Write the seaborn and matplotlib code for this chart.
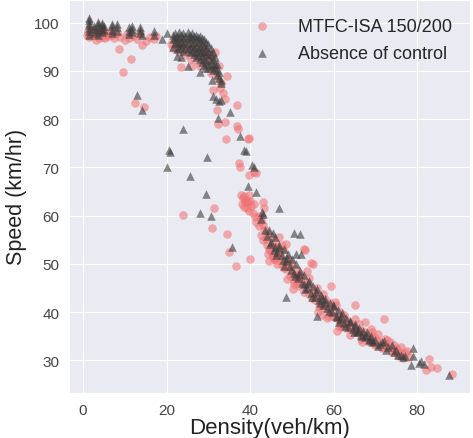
import numpy as np
import pandas as pd
import seaborn as sns
import matplotlib
matplotlib.use("Agg")
import matplotlib.pyplot as plt

# MTFC-ISA 150/200 (density, speed)
isa_density = [1.0, 1.2, 1.5, 1.8, 2.0, 2.3, 2.6, 3.0, 3.2, 3.5, 3.8, 4.2, 4.5, 4.8, 5.2, 5.5, 6.0, 6.5, 7.0, 7.5,
               8.0, 8.5, 8.8, 9.5, 10.0, 10.5, 11.0, 11.5, 12.0, 12.5, 13.0, 13.5, 14.0, 14.5, 15.0, 16.0, 17.0, 17.5,
               21.0, 21.5, 22.0, 22.5, 23.0, 23.5, 23.8, 24.2, 24.5, 25.0, 25.3, 25.8, 26.0, 26.4, 26.8, 27.2, 27.6,
               28.0, 28.3, 28.7, 29.0, 29.4, 29.8, 30.2, 30.5, 30.8, 31.0, 31.3, 31.6, 32.0, 32.0, 32.2, 32.5, 32.8,
               33.0, 33.5, 34.0, 34.2, 34.5, 34.0,
               36.8, 36.9, 37.0, 37.4, 37.5, 39.4, 39.6, 39.8, 41.4, 41.0,
               37.8, 38.0, 38.2, 38.4, 38.6, 38.8, 39.0, 39.2, 39.4, 39.6, 39.8, 40.0, 40.3, 40.6, 40.8, 41.2, 41.5,
               42.0, 42.5, 43.0, 43.2, 42.0, 42.5, 43.0,
               24.0, 31.4, 30.8, 34.5, 35.0, 36.5, 40.0, 44.5,
               42.5, 43.0, 43.5, 44.0, 44.0, 44.5, 45.0, 45.2, 45.5, 46.0, 46.2, 46.5, 47.0, 47.0, 47.5, 47.8, 48.0,
               48.5, 48.6, 49.0, 49.5, 49.8, 50.0, 50.2, 50.5, 51.0, 51.3, 51.8, 52.0, 52.5, 52.8, 53.2, 53.5, 54.0,
               54.2, 54.5, 55.0, 55.0, 55.5, 56.0, 56.2, 56.5, 57.0, 57.3, 57.8, 58.0, 58.5, 59.0, 59.4, 59.8, 60.0,
               60.5, 60.8, 61.0, 61.5, 62.0, 62.5, 63.0, 63.5, 64.0, 64.5, 65.0, 65.0, 65.5, 66.0, 66.5, 67.0, 67.5,
               68.0, 68.5, 69.0, 69.5, 70.0, 70.5, 71.0, 71.5, 72.0, 72.2, 73.0, 73.5, 74.0, 74.5, 75.0, 75.5, 76.0,
               76.5, 77.0, 77.5, 82.0, 82.8, 83.2, 84.8, 88.3,
               43.8, 44.8, 45.8, 46.8, 47.5, 48.2, 49.2, 50.8, 51.5, 52.2, 53.0, 53.8, 54.8, 55.8, 56.8, 57.5, 58.2,
               59.2, 60.2, 61.2, 62.2, 63.2, 64.2, 65.2, 66.2, 67.2, 68.2, 69.2, 70.2, 71.2, 72.8, 73.8, 75.2, 76.2,
               78.0, 44.2, 45.5, 46.5, 48.8, 50.5, 53.5, 56.5, 58.8, 61.8, 63.8, 66.8, 69.8, 72.5, 74.8]
isa_speed = [97.5, 98.2, 97.0, 98.0, 97.3, 98.4, 97.8, 96.3, 97.5, 98.0, 96.8, 97.6, 98.3, 97.1, 96.9, 97.8, 97.2, 98.0, 97.4, 96.7,
             97.9, 94.6, 97.0, 89.8, 96.4, 97.6, 96.8, 92.5, 97.3, 83.3, 96.5, 97.8, 95.4, 82.5, 96.2, 97.0, 96.5, 97.2,
             95.5, 94.8, 96.2, 95.0, 94.0, 90.8, 95.6, 94.5, 93.2, 95.8, 94.1, 92.5, 90.9, 95.0, 93.7, 94.8, 92.0,
             90.9, 93.5, 95.2, 92.8, 91.5, 94.0, 92.2, 89.5, 93.0, 86.0, 90.5, 94.0, 88.5, 81.8, 78.9, 91.0, 86.5,
             87.5, 85.5, 79.3, 75.9, 88.9, 84.2,
             82.9, 78.5, 78.0, 70.9, 70.1, 75.9, 76.0, 68.5, 68.8, 69.0,
             64.2, 62.5, 63.6, 61.8, 64.0, 62.9, 63.3, 61.5, 62.8, 64.3, 60.9, 63.0, 61.9, 60.5, 62.4, 59.8, 58.6,
             57.9, 58.8, 62.8, 61.5, 60.0, 59.5, 58.0,
             60.1, 61.6, 57.5, 56.2, 52.4, 49.5, 51.0, 50.6,
             56.0, 55.0, 57.0, 54.0, 56.5, 53.0, 55.5, 52.2, 51.5, 54.5, 50.8, 53.4, 55.5, 51.5, 49.8, 52.8, 50.5,
             54.2, 48.9, 51.0, 47.5, 50.2, 48.2, 44.8, 46.5, 49.0, 47.0, 45.5, 48.0, 46.2, 53.0, 52.8, 45.0, 47.0,
             43.8, 50.2, 50.0, 44.5, 42.5, 45.0, 40.0, 43.2, 41.5, 39.5, 42.8, 40.8, 38.8, 42.0, 45.5, 40.2, 39.0,
             41.5, 36.0, 38.5, 40.0, 37.5, 39.5, 36.8, 38.2, 35.2, 37.0, 41.5, 38.5, 35.8, 37.5, 34.5, 36.2, 38.0,
             35.0, 33.8, 36.5, 34.8, 33.2, 35.5, 33.8, 32.5, 38.5, 34.5, 32.8, 33.8, 31.8, 33.2, 32.5, 31.0, 32.8,
             30.5, 31.5, 32.0, 28.0, 30.2, 28.6, 28.5, 27.2,
             55.2, 52.8, 51.0, 52.0, 54.0, 49.2, 49.5, 47.8, 46.2, 47.2, 44.2, 46.0, 43.0, 44.0, 41.8, 43.8, 41.2,
             39.8, 42.2, 37.2, 38.8, 37.8, 36.5, 36.2, 36.0, 35.2, 34.2, 35.8, 34.5, 32.8, 34.2, 32.2, 31.5, 31.8,
             30.8, 52.0, 53.8, 50.0, 46.8, 45.8, 48.5, 41.0, 39.2, 37.0, 37.8, 33.8, 33.5, 33.0, 32.0]

# Absence of control (density, speed)
noc_density = [1.5, 1.5, 1.5, 1.5, 1.5, 1.5, 1.5, 2.5, 2.5, 2.5, 3.5, 3.5, 3.5, 3.5, 3.5, 4.5, 4.5, 4.5, 4.5,
               5.0, 5.0, 7.0, 7.0, 7.0, 7.0, 8.0, 8.0, 8.0, 11.0, 11.0, 11.0, 11.8, 11.8, 11.8, 13.5, 13.5, 13.5,
               14.0, 17.0, 17.0, 19.0, 20.0,
               21.5, 21.5, 21.5, 22.0, 22.0, 22.0, 22.5, 22.5, 22.5, 23.0, 23.0, 23.0, 23.0, 23.5, 23.5, 23.5,
               24.0, 24.0, 24.0, 24.0, 24.5, 24.5, 24.5, 25.0, 25.0, 25.0, 25.0, 25.5, 25.5, 25.5, 25.5,
               26.0, 26.0, 26.0, 26.0, 26.5, 26.5, 26.5, 26.5, 27.0, 27.0, 27.0, 27.0, 27.0, 27.5, 27.5, 27.5, 27.5,
               28.0, 28.0, 28.0, 28.0, 28.0, 28.5, 28.5, 28.5, 28.5, 28.5, 29.0, 29.0, 29.0, 29.0, 29.0,
               29.5, 29.5, 29.5, 29.5, 30.0, 30.0, 30.0, 30.0, 30.0, 30.5, 30.5, 30.5, 30.5, 31.0, 31.0, 31.0, 31.0,
               31.5, 31.5, 31.5, 32.0, 32.0, 32.0, 32.5, 32.5, 33.0, 33.0,
               22.5, 23.5, 25.2, 28.0, 29.2, 30.8, 31.0, 31.8, 32.5, 33.0, 32.2, 35.2, 37.5, 38.5, 39.0, 40.5, 41.0,
               39.5, 41.5, 42.8, 43.0, 47.0, 42.5, 13.0, 14.0, 24.0, 20.5, 20.8, 20.0, 29.6, 25.5, 29.5, 28.0, 30.5,
               35.6, 48.5, 56.0, 50.5, 52.0, 52.2, 51.0,
               43.5, 44.0, 44.5, 45.0, 45.5, 46.0, 46.0, 46.5, 47.0, 47.5, 48.0, 48.5, 49.0, 49.5, 50.0, 50.5, 51.0,
               51.5, 52.0, 52.5, 53.0, 53.5, 54.0, 54.5, 55.0, 55.5, 56.0, 56.5, 57.0, 57.5, 58.0, 58.5, 59.0, 59.5,
               60.0, 60.5, 61.0, 61.5, 62.0, 62.5, 63.0, 63.5, 64.0, 64.5, 65.0, 65.5, 66.0, 66.5, 67.0, 67.5, 68.0,
               68.5, 69.0, 69.5, 70.0, 71.0, 72.0, 73.0, 74.0, 75.0, 76.0, 76.5, 79.0, 79.0, 78.5, 80.5, 81.0, 81.5,
               87.5,
               44.8, 45.8, 46.8, 47.8, 48.8, 49.8, 50.8, 51.8, 52.8, 53.8, 54.8, 55.8, 56.8, 57.8, 58.8, 59.8, 60.8,
               61.8, 62.8, 63.8, 64.8, 65.8, 66.8, 67.8, 68.8, 70.5, 71.5, 72.5, 74.5, 75.5, 77.0, 46.2, 48.2, 53.2,
               57.2, 61.2, 65.2, 69.2]
noc_speed = [97.5, 98.2, 98.8, 99.4, 100.0, 100.6, 101.0, 97.8, 98.6, 99.3, 97.5, 98.3, 99.0, 99.6, 100.2, 98.0, 98.7, 99.4, 100.0,
             98.5, 99.2, 97.8, 98.5, 99.2, 99.8, 98.2, 99.0, 99.6, 97.6, 98.3, 99.0, 98.0, 98.6, 99.2, 97.8, 98.5, 99.0,
             97.5, 97.5, 98.2, 96.5, 97.8,
             97.5, 96.5, 95.0, 97.8, 96.8, 95.8, 97.2, 96.0, 94.5, 98.0, 97.0, 95.8, 94.8, 97.5, 96.2, 95.2,
             97.8, 96.8, 95.5, 94.2, 97.2, 96.0, 94.8, 98.0, 97.0, 95.8, 94.5, 97.5, 96.5, 95.2, 93.8,
             97.8, 96.8, 95.5, 94.2, 97.2, 96.0, 94.8, 93.5, 97.5, 96.5, 95.2, 94.0, 92.8, 97.0, 96.0, 94.5, 93.2,
             97.2, 96.2, 95.0, 93.8, 92.5, 96.8, 95.5, 94.2, 93.0, 91.8, 96.5, 95.2, 94.0, 92.5, 91.2,
             96.0, 94.8, 93.5, 92.0, 95.5, 94.2, 93.0, 91.5, 90.5, 94.8, 93.5, 92.2, 91.0, 93.8, 92.5, 91.2, 90.2,
             92.8, 91.5, 90.5, 91.5, 90.2, 89.2, 89.8, 88.5, 88.2, 87.5,
             93.0, 92.8, 91.0, 89.8, 90.5, 88.2, 84.8, 84.2, 83.8, 84.0, 80.2, 81.5, 76.5, 73.5, 73.4, 70.5, 70.0,
             66.2, 65.0, 60.8, 60.3, 61.6, 59.2, 85.0, 81.8, 77.9, 73.5, 73.2, 70.1, 72.2, 68.2, 64.5, 60.6, 60.0,
             53.6, 43.2, 39.2, 56.4, 56.2, 52.0, 52.0,
             57.0, 55.8, 57.0, 54.5, 56.5, 53.5, 55.5, 52.5, 54.0, 51.8, 53.0, 50.5, 52.0, 49.5, 51.0, 48.2, 50.0,
             47.0, 48.5, 46.0, 47.8, 45.0, 46.5, 44.0, 45.5, 43.2, 44.8, 42.5, 43.5, 41.5, 42.8, 40.8, 42.0, 40.0,
             41.2, 39.2, 40.5, 38.5, 39.8, 37.8, 38.8, 37.0, 38.2, 36.5, 37.5, 35.8, 36.8, 35.2, 36.2, 34.8, 35.8,
             34.2, 35.0, 33.8, 34.2, 33.5, 34.0, 32.8, 33.2, 32.2, 31.2, 30.8, 32.5, 31.0, 29.0, 29.5, 29.8, 29.2,
             27.0,
             54.2, 52.8, 53.2, 50.8, 51.2, 48.8, 47.5, 48.0, 45.8, 46.0, 43.2, 44.2, 42.0, 42.2, 40.2, 41.5, 39.0,
             39.2, 37.2, 38.0, 35.8, 36.0, 35.0, 35.2, 34.5, 33.0, 33.8, 32.2, 31.8, 31.2, 31.0, 51.8, 49.5, 44.8,
             43.0, 38.0, 37.2, 34.0]

isa = pd.DataFrame({"density": isa_density, "speed": isa_speed})
noc = pd.DataFrame({"density": noc_density, "speed": noc_speed})

sns.set_style("darkgrid")
plt.rcParams["font.family"] = ["Liberation Sans", "DejaVu Sans"]
fig, ax = plt.subplots(figsize=(4.73, 4.39), dpi=100)
fig.subplots_adjust(left=0.146, right=0.994, bottom=0.103, top=0.998)

sns.scatterplot(data=isa, x="density", y="speed", ax=ax, color="#f07070", alpha=0.55,
                marker="o", s=38, linewidth=0, label="MTFC-ISA 150/200")
sns.scatterplot(data=noc, x="density", y="speed", ax=ax, color="#3c3c3c", alpha=0.6,
                marker="^", s=38, linewidth=0, label="Absence of control")

ax.set_xticks([0, 20, 40, 60, 80])
ax.set_yticks([30, 40, 50, 60, 70, 80, 90, 100])
ax.tick_params(labelsize=11, colors="#444444")
ax.set_xlabel("Density(veh/km)", fontsize=16, color="#222222", labelpad=0)
ax.set_ylabel("Speed (km/hr)", fontsize=15.5, color="#222222", labelpad=5)
ax.legend(loc="upper right", frameon=False, fontsize=13, handletextpad=1.0,
          borderaxespad=0.6, labelspacing=0.55)

fig.savefig("out.png", dpi=100)
